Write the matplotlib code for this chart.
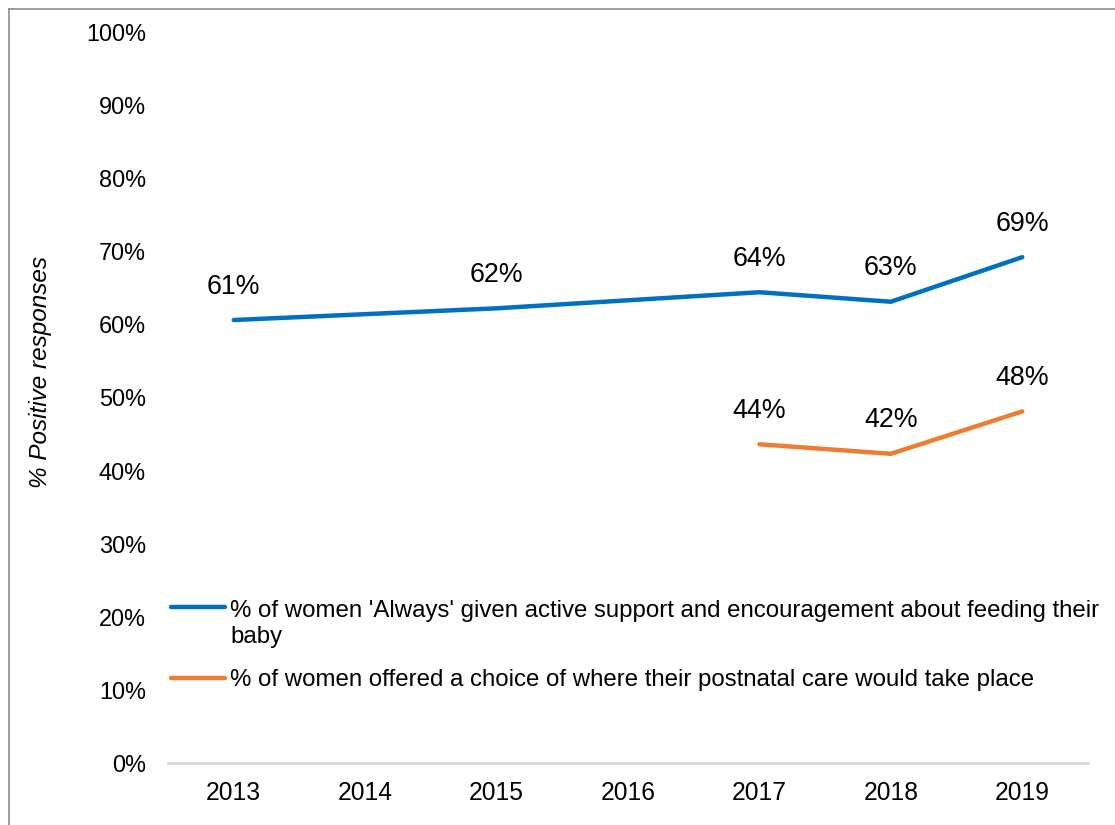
import matplotlib
matplotlib.use("Agg")
import matplotlib.pyplot as plt
import numpy as np
from matplotlib.lines import Line2D

plt.rcParams['font.family'] = ['Liberation Sans', 'DejaVu Sans']

years = ["2013", "2014", "2015", "2016", "2017", "2018", "2019"]
feeding = [60.6, np.nan, 62.2, np.nan, 64.4, 63.1, 69.2]
choice = [np.nan, np.nan, np.nan, np.nan, 43.6, 42.3, 48.1]
feeding_label = "% of women 'Always' given active support and encouragement about feeding their\nbaby"
choice_label = "% of women offered a choice of where their postnatal care would take place"
y_ticks = [0, 10, 20, 30, 40, 50, 60, 70, 80, 90, 100]

BLUE = "#0070C0"
ORANGE = "#ED7D31"

W, H = 1115, 825
fig = plt.figure(figsize=(W / 100, H / 100), dpi=100)
ax = fig.add_axes([168 / W, 1 - 763 / H, (1088 - 168) / W, (763 - 32) / H])

x = np.arange(len(years))

def plot_series(vals, color):
    v = np.array(vals, dtype=float)
    m = ~np.isnan(v)
    ax.plot(x[m], v[m], color=color, lw=3.2, solid_capstyle='round',
            solid_joinstyle='round', zorder=3)
    for xi, vi in zip(x[m], v[m]):
        ax.annotate(f"{vi:.0f}%", (xi, vi), xytext=(0, 24), textcoords='offset points',
                    ha='center', va='center', fontsize=19.3, color='#000000')

plot_series(feeding, BLUE)
plot_series(choice, ORANGE)

ax.set_xlim(-0.5, len(years) - 0.5)
ax.set_ylim(0, 100)
ax.set_xticks(x)
ax.set_xticklabels(years, fontsize=17.7)
ax.set_yticks(y_ticks)
ax.set_yticklabels([f"{t}%" for t in y_ticks], fontsize=16.9)
ax.tick_params(axis='both', length=0, colors='#000000')
ax.tick_params(axis='x', pad=13)
ax.tick_params(axis='y', pad=16)
for s in ['top', 'right', 'left']:
    ax.spines[s].set_visible(False)
ax.spines['bottom'].set_color('#D9D9D9')
ax.spines['bottom'].set_linewidth(2)

fig.text(41 / W, 1 - 372 / H, "% Positive responses", rotation=90, style='italic',
         fontsize=17.5, ha='center', va='center')

# legend (handle aligned with first text line, as in the original)
def fx(px):
    return px / W

def fy(py):
    return 1 - py / H

# (label, colour, handle y, baseline y of the last text line)
legend_entries = [(feeding_label, BLUE, 607, 643), (choice_label, ORANGE, 678, 686)]
for label, color, y_handle, y_base in legend_entries:
    fig.add_artist(Line2D([fx(171), fx(225)], [fy(y_handle), fy(y_handle)],
                          transform=fig.transFigure, color=color, lw=3.2,
                          solid_capstyle='round'))
    fig.text(fx(230), fy(y_base), label, fontsize=17.3, ha='left', va='baseline',
             linespacing=1.25)

# outer frame (left and top edges visible)
fig.add_artist(Line2D([8.5 / W, 8.5 / W], [0, 1 - 8.5 / H], transform=fig.transFigure,
                      color='#8C8C8C', lw=1.2))
fig.add_artist(Line2D([8.5 / W, 1], [1 - 8.5 / H, 1 - 8.5 / H], transform=fig.transFigure,
                      color='#8C8C8C', lw=1.2))

fig.savefig("out.png", dpi=100)
